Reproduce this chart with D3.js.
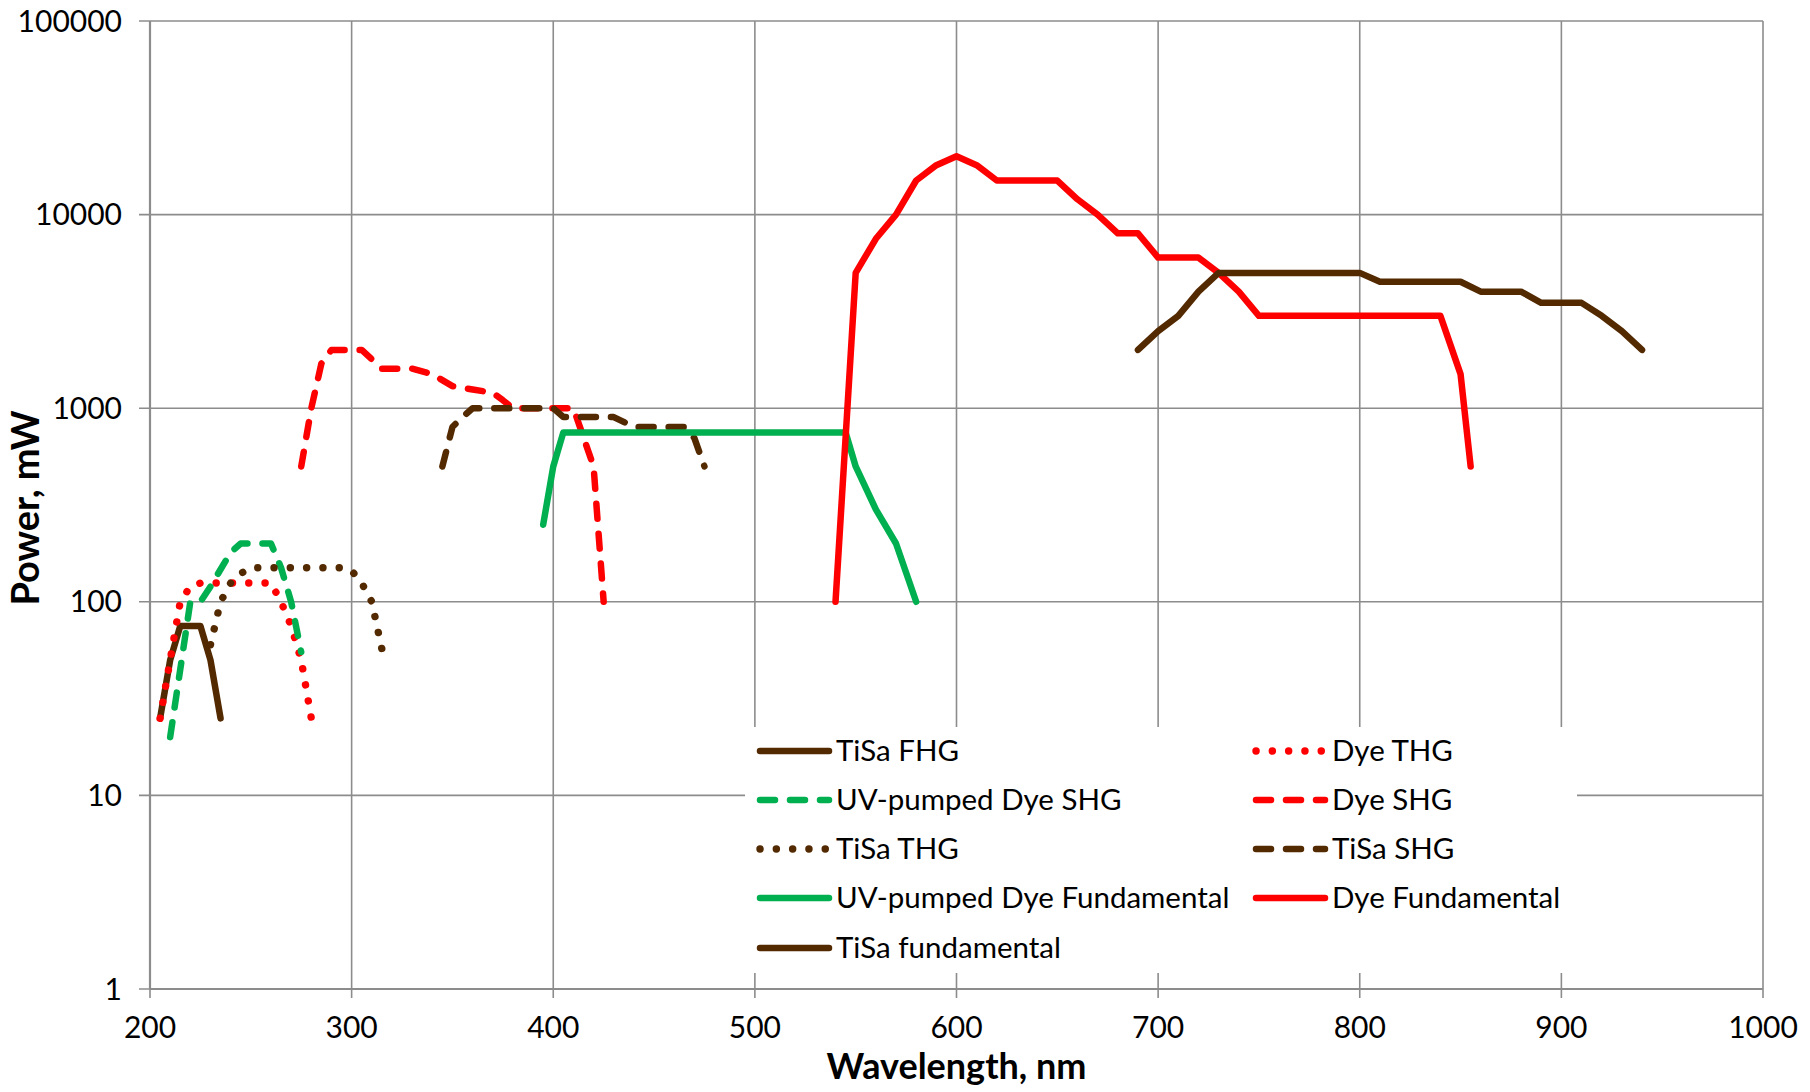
<!DOCTYPE html>
<html><head><meta charset="utf-8">
<script src="https://cdn.jsdelivr.net/npm/d3@7"></script>
<style>
body{margin:0;background:#fff}
svg{display:block}
text{font-family:Lato,"Open Sans",sans-serif;fill:#000}
</style>
</head><body><svg id="c" width="1810" height="1092"></svg>
<script>
// ---- data: [wavelength nm, power mW] ----
const tisaFHG = [[205,25],[210,50],[215,75],[225,75],[230,50],[235,25]];
const dyeTHG = [[205,25],[210,50],[215,100],[220,120],[225,125],[260,125],[265,100],[270,75],[275,50],[280,25]];
const uvDyeSHG = [[210,20],[220,100],[225,100],[230,120],[240,180],[245,200],[260,200],[265,150],[270,100],[275,55]];
const dyeSHG = [[275,500],[280,1000],[285,1700],[290,2000],[305,2000],[315,1600],[330,1600],[340,1500],[350,1300],[360,1250],[370,1200],[375,1100],[380,1000],[410,1000],[420,500],[425,100]];
const tisaTHG = [[230,60],[235,100],[240,125],[245,140],[250,150],[295,150],[300,145],[305,125],[310,100],[315,57]];
const tisaSHG = [[345,500],[350,800],[355,900],[360,1000],[400,1000],[405,900],[430,900],[440,800],[465,800],[470,700],[475,500]];
const uvDyeFund = [[395,250],[400,500],[405,750],[545,750],[550,500],[560,300],[570,200],[580,100]];
const dyeFund = [[540,100],[550,5000],[560,7500],[570,10000],[580,15000],[590,18000],[600,20000],[610,18000],[620,15000],[650,15000],[660,12000],[670,10000],[680,8000],[690,8000],[700,6000],[720,6000],[730,5000],[740,4000],[750,3000],[840,3000],[850,1500],[855,500]];
const tisaFund = [[690,2000],[700,2500],[710,3000],[720,4000],[730,5000],[800,5000],[810,4500],[850,4500],[860,4000],[880,4000],[890,3500],[910,3500],[920,3000],[930,2500],[940,2000]];

const seriesNames = ["TiSa FHG","Dye THG","UV-pumped Dye SHG","Dye SHG","TiSa THG","TiSa SHG","UV-pumped Dye Fundamental","Dye Fundamental","TiSa fundamental"];
const seriesData = [tisaFHG,dyeTHG,uvDyeSHG,dyeSHG,tisaTHG,tisaSHG,uvDyeFund,dyeFund,tisaFund];
const seriesColors = ["#532900","#FF0000","#00B050","#FF0000","#532900","#532900","#00B050","#FF0000","#532900"];
const seriesStyles = ["solid","dot","dash","dash","dot","dash","solid","solid","solid"];

const xTicks = [200,300,400,500,600,700,800,900,1000];
const yTicks = [1,10,100,1000,10000,100000];
const xTitle = "Wavelength, nm";
const yTitle = "Power, mW";

// ---- layout ----
const L = 150, R = 1763, T = 21, B = 989;
const svg = d3.select("#c");
const x = d3.scaleLinear().domain([200,1000]).range([L,R]);
const y = d3.scaleLog().domain([1,100000]).range([B,T]);
const gridCol = "#8c8c8c";
const widths = {solid:6.5, dash:6.5, dot:7.4};
const dashes = {solid:null, dash:"15 15", dot:"0.1 16.2"};

// gridlines
const g = svg.append("g");
g.selectAll(".vg").data(xTicks).join("line")
  .attr("x1",d=>x(d)).attr("x2",d=>x(d)).attr("y1",T).attr("y2",B+9)
  .attr("stroke",gridCol).attr("stroke-width",1.6);
g.selectAll(".hg").data(yTicks).join("line")
  .attr("x1",L-11).attr("x2",R).attr("y1",d=>y(d)).attr("y2",d=>y(d))
  .attr("stroke",gridCol).attr("stroke-width",1.6);
g.append("line").attr("x1",L).attr("x2",L).attr("y1",T).attr("y2",B).attr("stroke",gridCol).attr("stroke-width",2.2);
g.append("line").attr("x1",L).attr("x2",R).attr("y1",B).attr("y2",B).attr("stroke",gridCol).attr("stroke-width",2.2);

// tick labels
svg.append("g").selectAll("text").data(yTicks).join("text")
  .attr("x",122).attr("y",d=>y(d)).attr("dy","0.35em").attr("text-anchor","end")
  .attr("font-size",30).text(d=>String(d));
svg.append("g").selectAll("text").data(xTicks).join("text")
  .attr("x",d=>x(d)).attr("y",1027).attr("dy","0.35em").attr("text-anchor","middle")
  .attr("font-size",30).text(d=>String(d));

// axis titles
svg.append("text").attr("x",(L+R)/2).attr("y",1066).attr("dy","0.35em").attr("text-anchor","middle")
  .attr("font-size",36).attr("font-weight","bold").text(xTitle);
svg.append("text").attr("transform",`translate(26,${(T+B)/2 + 3}) rotate(-90)`).attr("dy","0.35em")
  .attr("text-anchor","middle").attr("font-size",38).attr("font-weight","bold").text(yTitle);

// series
const line = d3.line().x(d=>x(d[0])).y(d=>y(d[1]));
seriesData.forEach((data,i)=>{
  const st = seriesStyles[i];
  svg.append("path").datum(data).attr("d",line)
    .attr("fill","none").attr("stroke",seriesColors[i]).attr("stroke-width",widths[st])
    .attr("stroke-linecap","round").attr("stroke-linejoin","round")
    .attr("stroke-dasharray",dashes[st]);
});

// legend
const lg = svg.append("g");
lg.append("rect").attr("x",745).attr("y",727).attr("width",832).attr("height",246).attr("fill","#fff");
const rowY = [751,800,849,898,948];
const colX = [760,1256];
seriesNames.forEach((name,i)=>{
  const cx = colX[i%2], cy = rowY[Math.floor(i/2)];
  const st = seriesStyles[i];
  lg.append("line").attr("x1",cx).attr("x2",cx+69).attr("y1",cy).attr("y2",cy)
    .attr("stroke",seriesColors[i]).attr("stroke-width",widths[st]).attr("stroke-linecap","round")
    .attr("stroke-dasharray",dashes[st]);
  lg.append("text").attr("x",cx+76).attr("y",cy).attr("dy","0.35em").attr("font-size",29.5).text(name);
});
</script></body></html>
